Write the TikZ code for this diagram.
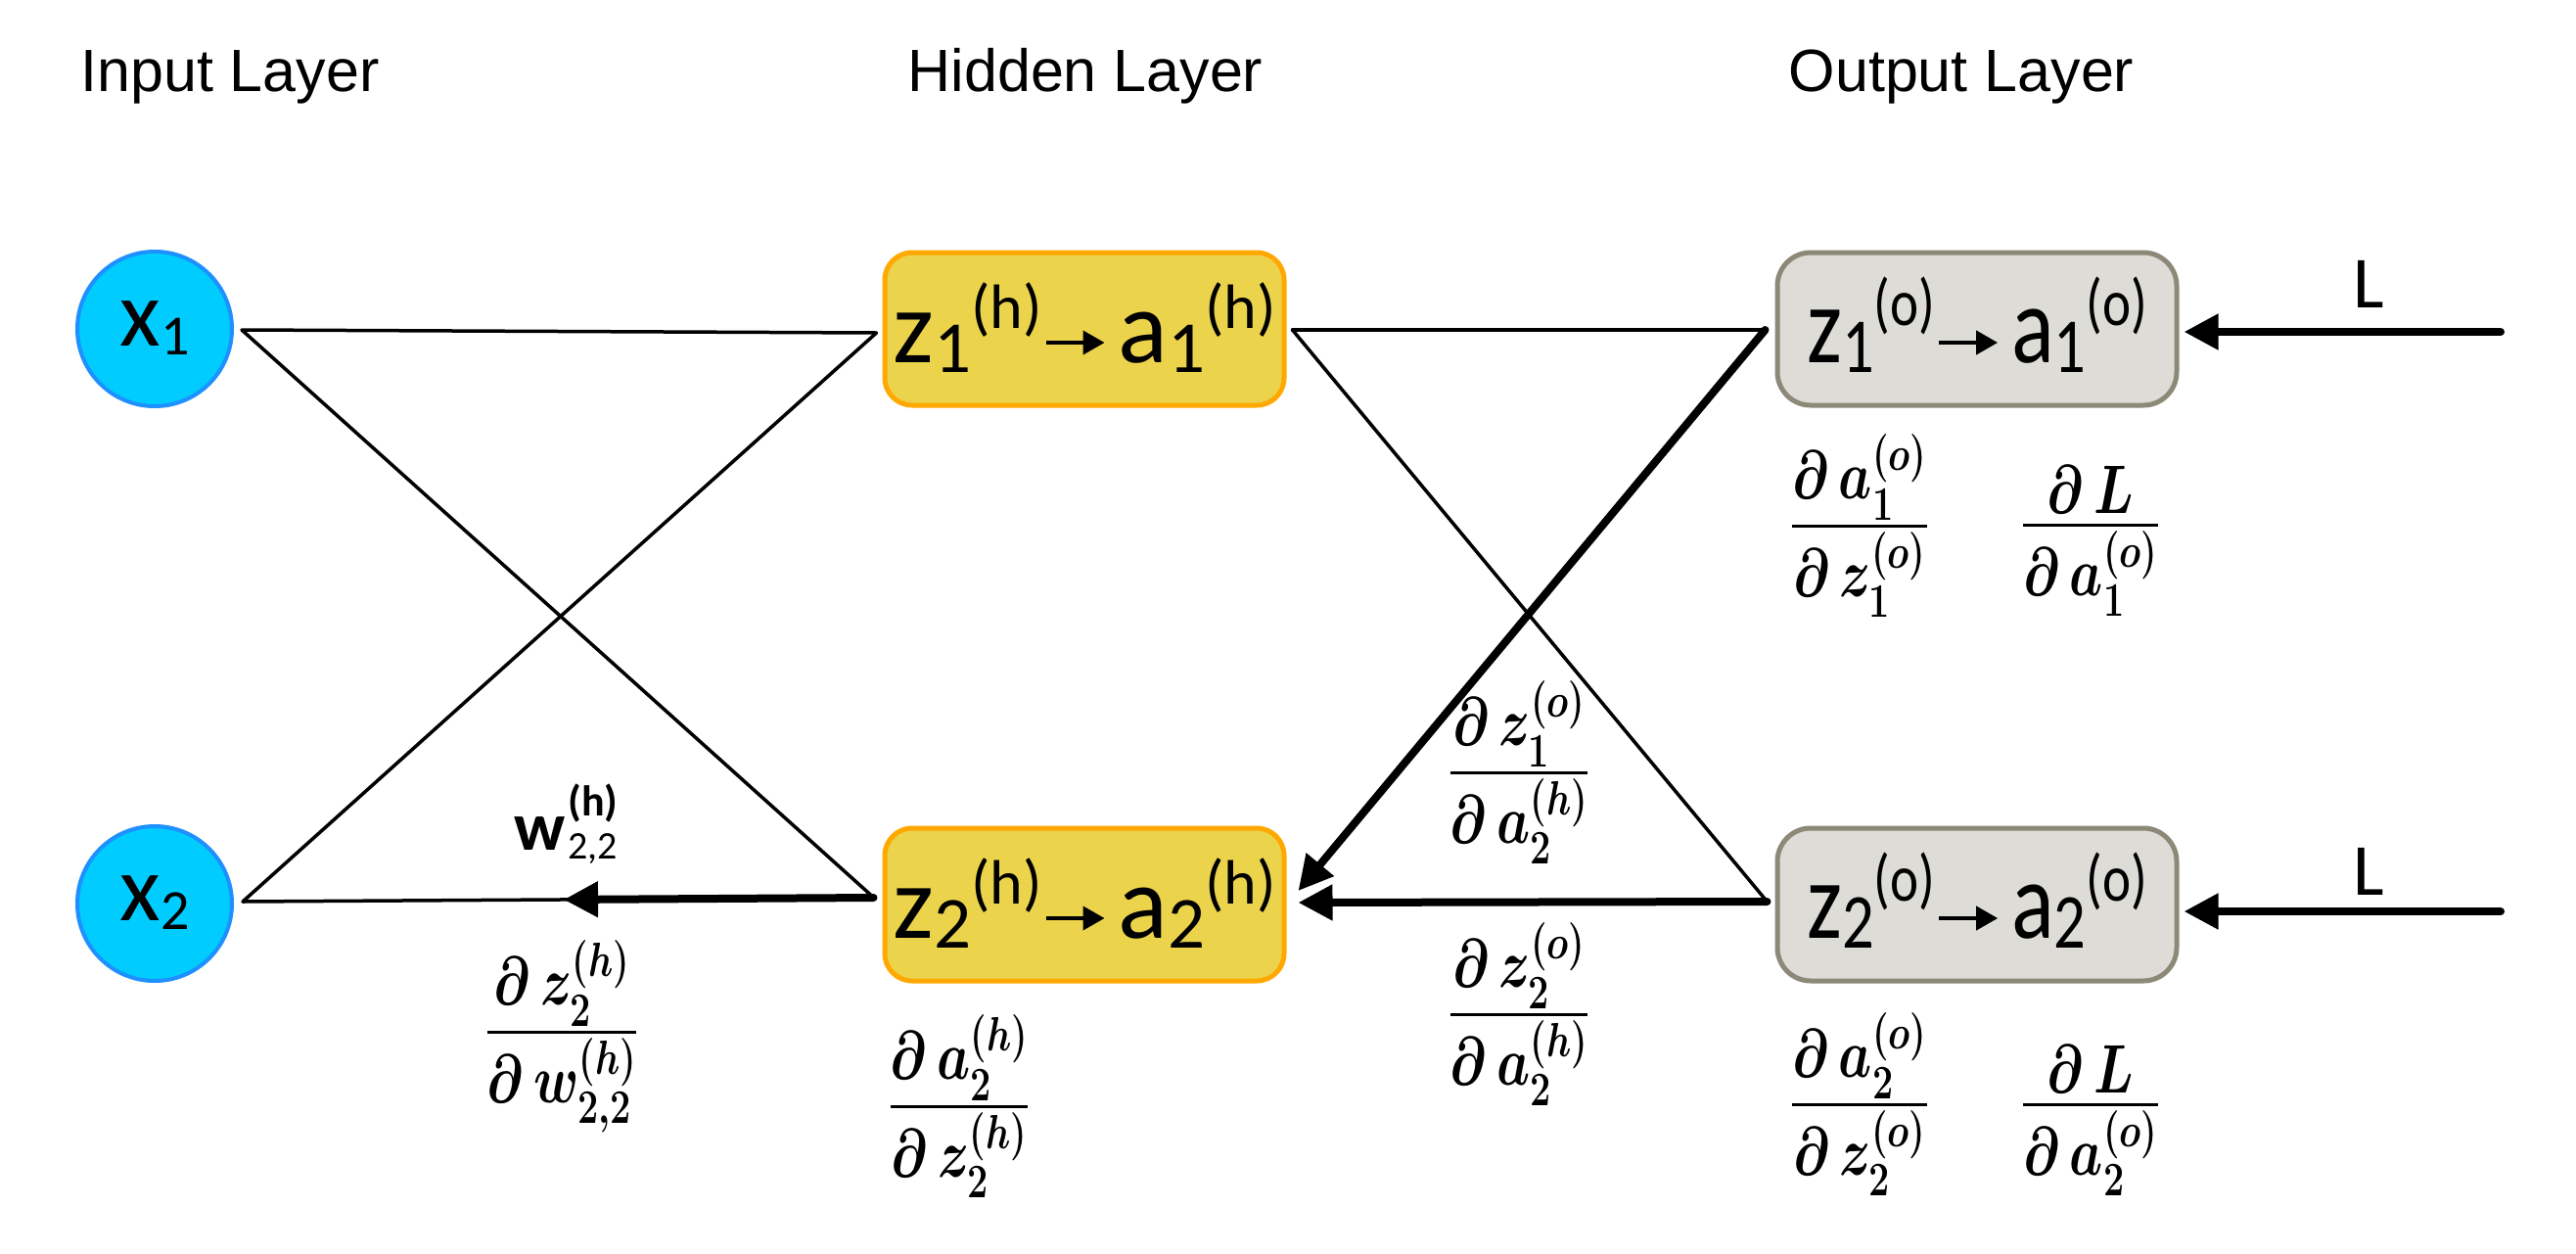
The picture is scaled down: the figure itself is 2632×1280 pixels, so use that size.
\RequirePackage{fix-cm}
\documentclass[tikz,border=0pt]{standalone}
\usepackage{amsmath}
\usepackage{graphicx}
\usepackage[no-math]{fontspec}
\setmainfont{Liberation Sans}
\newfontfamily\calibri{Carlito}
\usetikzlibrary{arrows.meta,calc}

\definecolor{incyan}{RGB}{0,204,255}
\definecolor{inblue}{RGB}{30,144,255}
\definecolor{hidfill}{RGB}{236,211,76}
\definecolor{hiddraw}{RGB}{255,168,0}
\definecolor{outfill}{RGB}{221,220,214}
\definecolor{outdraw}{RGB}{140,137,120}

\newcommand\zpart[3]{{\fontsize{106}{106}\selectfont #1}\raisebox{-10pt}{\fontsize{75}{75}\selectfont #2}\raisebox{35pt}{\fontsize{64}{64}\selectfont(#3)}}
\newcommand\barrow{\hspace{2pt}\tikz[baseline=-20pt]\draw[draw=black,fill=black,line width=4pt,-{Triangle[length=22pt,width=24pt]}] (0pt,0pt)--(60pt,0pt);\hspace{12pt}}
\newcommand\hidtext[2]{\zpart{z}{#1}{#2}\barrow\zpart{a}{#1}{#2}}
\newcommand\outtext[2]{\scalebox{0.86}[1.06]{\zpart{z}{#1}{#2}}\barrow\scalebox{0.86}[1.06]{\zpart{a}{#1}{#2}}}
\newcommand\pd[2]{\scalebox{1}[1.3]{\boldmath$\genfrac{}{}{3pt}{1}{\displaystyle\partial\,#1}{\displaystyle\partial\,#2}$}}

\tikzset{
 innode/.style={circle, fill=incyan, draw=inblue, line width=4pt, minimum size=158pt, inner sep=0pt, text height=60pt, text depth=26pt, font=\calibri\fontsize{96}{96}\selectfont},
 hidnode/.style={rectangle, rounded corners=28pt, fill=hidfill, draw=hiddraw, line width=5pt, minimum width=408pt, inner sep=0pt, text height=112pt, text depth=44pt, font=\calibri},
 outnode/.style={rectangle, rounded corners=34pt, fill=outfill, draw=outdraw, line width=5pt, minimum width=408pt, inner sep=0pt, text height=112pt, text depth=44pt, font=\calibri},
 conn/.style={line width=3.5pt, line cap=round},
 bprop/.style={line width=8pt, line cap=round, -{Triangle[length=35pt,width=35pt]}},
 hdr/.style={anchor=base, inner sep=0pt, font=\fontsize{61}{70}\selectfont},
 fracnode/.style={anchor=base, inner sep=0pt, font=\fontsize{54}{64}\selectfont},
 lossnode/.style={anchor=base, inner sep=0pt, font=\calibri\fontsize{75}{80}\selectfont},
}

\begin{document}
\begin{tikzpicture}[x=1pt,y=-1pt]
\fill[white] (0,0) rectangle (2632,1280);
\useasboundingbox (0,0) rectangle (2632,1280);

% headers
\node[hdr] (hin) at (235,93) {Input Layer};
\node[hdr] (hhid) at (1109,93) {Hidden Layer};
\node[hdr] (hout) at (2004,93) {Output Layer};

% nodes
\node[innode] (x1) at (158,336) {x\raisebox{-9pt}{\fontsize{58}{58}\selectfont 1}};
\node[innode] (x2) at (158,923) {x\raisebox{-9pt}{\fontsize{58}{58}\selectfont 2}};
\node[hidnode] (h1) at (1108,336) {\hidtext{1}{h}};
\node[hidnode] (h2) at (1108,924) {\hidtext{2}{h}};
\node[outnode] (o1) at (2020,336) {\outtext{1}{o}};
\node[outnode] (o2) at (2020,924) {\outtext{2}{o}};

% connector end points
\coordinate (A1) at ($(x1.east)+(8,1)$);
\coordinate (A2) at ($(x2.east)+(9,-2)$);
\coordinate (B1) at ($(h1.west)+(-6,4)$);
\coordinate (B2) at ($(h2.west)+(-12,-10)$);
\coordinate (B3) at ($(h2.west)+(-9,-7)$);
\coordinate (M) at ($(A2)!0.509!(B3)$);
\coordinate (C1) at ($(h1.east)+(6,1)$);
\coordinate (D1) at ($(o1.west)+(-10,1)$);
\coordinate (D2) at ($(o2.west)+(-8,-3)$);
\coordinate (E1) at ($(h2.east)+(12,-14)$);
\coordinate (E2) at ($(h2.east)+(12,-2)$);
\coordinate (G1) at ($(o1.east)+(5,3)$);
\coordinate (G2) at ($(o2.east)+(5,7)$);
\coordinate (L1) at (2555,339);
\coordinate (L2) at (2555,931);

% forward connections
\draw[conn] (A1) -- (B1);
\draw[conn] (A1) -- (B2);
\draw[conn] (A2) -- (B1);
\draw[conn] (A2) -- (B3);
\draw[conn] (C1) -- (D1);
\draw[conn] (C1) -- (D2);

% backward arrows
\draw[bprop] (B3) -- (M);
\draw[bprop] (D1) -- (E1);
\draw[bprop] (D2) -- (E2);
\draw[bprop] (L1) -- (G1);
\draw[bprop] (L2) -- (G2);

% labels
\node[lossnode] (l1) at (2420,314) {L};
\node[lossnode] (l2) at (2420,914) {L};
\node[anchor=base west, inner sep=0pt, font=\calibri] (w) at (525,868)
  {{\fontsize{70}{70}\selectfont\bfseries w}\hspace{3pt}\rlap{\raisebox{-9pt}{\fontsize{40}{40}\selectfont 2,2}}\raisebox{35pt}{\fontsize{44}{44}\selectfont\bfseries(h)}};

% partial derivatives (bar at y, node placed at bar + axis)
\node[fracnode] (f1) at (574,1072) {\pd{z_2^{(h)}}{w_{2,2}^{(h)}}};
\node[fracnode] (f2) at (980,1148) {\pd{a_2^{(h)}}{z_2^{(h)}}};
\node[fracnode] (f3) at (1552,807) {\pd{z_1^{(o)}}{a_2^{(h)}}};
\node[fracnode] (f4) at (1552,1054) {\pd{z_2^{(o)}}{a_2^{(h)}}};
\node[fracnode] (f5) at (1900,555) {\pd{a_1^{(o)}}{z_1^{(o)}}};
\node[fracnode] (f6) at (2136,554) {\pd{L}{a_1^{(o)}}};
\node[fracnode] (f7) at (1900,1146) {\pd{a_2^{(o)}}{z_2^{(o)}}};
\node[fracnode] (f8) at (2136,1146) {\pd{L}{a_2^{(o)}}};
\end{tikzpicture}
\end{document}
